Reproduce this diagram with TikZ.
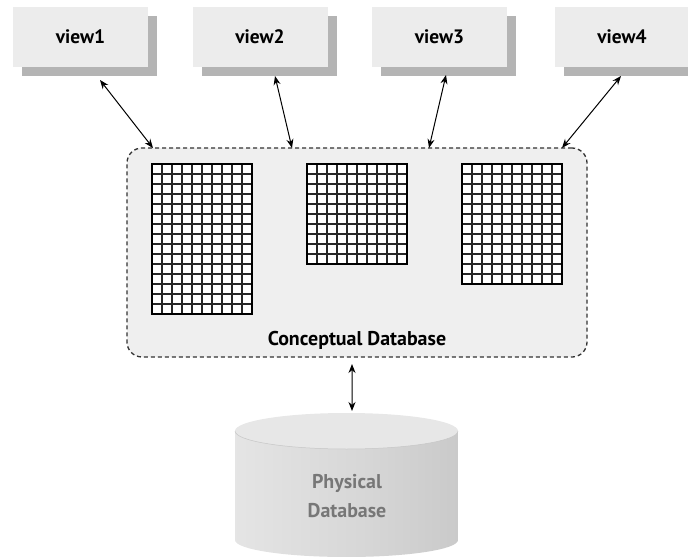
\documentclass[tikz,border=0pt]{standalone}
\usepackage{fontspec}
\setmainfont{PT Sans}
\newfontfamily\labfont{PT Sans}
\usetikzlibrary{shadows,calc,arrows.meta}
\definecolor{boxfill}{HTML}{ECECEC}
\definecolor{shadowgray}{HTML}{B4B4B4}
\definecolor{cfill}{HTML}{EFEFEF}
\definecolor{dashgray}{HTML}{333333}
\definecolor{cylA}{HTML}{C6C6C6}
\definecolor{cylB}{HTML}{E9E9E9}
\definecolor{cylC}{HTML}{D6D6D6}
\definecolor{cylD}{HTML}{BBBBBB}
\definecolor{cyltop}{HTML}{E7E7E7}
\definecolor{phystext}{HTML}{777777}
\pgfdeclarehorizontalshading{cylside}{100bp}{color(0bp)=(cylA); color(16bp)=(cylB); color(55bp)=(cylC); color(100bp)=(cylD)}
\begin{document}
\begin{tikzpicture}[x=1bp,y=-1bp,
  viewbox/.style={fill=boxfill, draw=none, minimum width=135bp, minimum height=60bp,
    inner sep=0bp, outer sep=0bp,
    drop shadow={shadow xshift=9bp, shadow yshift=-9bp, fill=shadowgray, opacity=1},
    font=\labfont\bfseries\fontsize{19.5}{22}\selectfont},
  cbox/.style={fill=cfill, draw=dashgray, dash pattern=on 4bp off 3bp, line width=1.3bp,
    rounded corners=15bp, inner sep=0bp, outer sep=0bp},
  gridbox/.style={fill=white, draw=none, inner sep=0bp, outer sep=0bp, anchor=north west},
  gline/.style={draw=black!85, line width=1.5bp},
  dbl/.style={{Stealth[length=9bp,width=7bp]}-{Stealth[length=9bp,width=7bp]}, line width=1bp},
  lbl/.style={font=\labfont\bfseries\fontsize{20}{22}\selectfont, inner sep=0bp},
  phys/.style={font=\labfont\bfseries\fontsize{20}{30}\selectfont, text=phystext, align=center, inner sep=0bp}
]
\useasboundingbox (0,0) rectangle (688,557);

% views
\node[viewbox] (v1) at (80.5,37) {view1};
\node[viewbox] (v2) at (260,37) {view2};
\node[viewbox] (v3) at (439.5,37) {view3};
\node[viewbox] (v4) at (622,37) {view4};

% conceptual database box
\node[cbox, anchor=north west, minimum width=460bp, minimum height=209bp] (cdb) at (127,148) {};
\node[lbl] (clab) at (357,340) {Conceptual Database};

% grids
\newcommand\gridtable[5]{%
  \node[gridbox, minimum width=#4*10bp, minimum height=#5*10bp] (#1) at (#2,#3) {};
  \pgfmathtruncatemacro\gc{#4-1}%
  \pgfmathtruncatemacro\gr{#5-1}%
  \foreach \i in {1,...,\gc} {\draw[gline] ($(#1.north west)+(\i*10,0)$) -- ($(#1.south west)+(\i*10,0)$);}
  \foreach \j in {1,...,\gr} {\draw[gline] ($(#1.north west)+(0,\j*10)$) -- ($(#1.north east)+(0,\j*10)$);}
  \draw[black, line width=2.2bp] (#1.north west) rectangle (#1.south east);
}
\gridtable{t1}{152}{164}{10}{15}
\gridtable{t2}{307}{164}{10}{10}
\gridtable{t3}{462}{164}{10}{12}

% arrows views <-> conceptual
\draw[dbl] ($(v1.south)+(19.5,13)$) -- ($(cdb.north west)+(26,0)$);
\draw[dbl] ($(v2.south)+(15,9)$) -- ($(cdb.north west)+(165,0)$);
\draw[dbl] ($(v3.south)+(6.5,8)$) -- ($(cdb.north west)+(302,0)$);
\draw[dbl] ($(v4.south)+(-1,9)$) -- ($(cdb.north west)+(435,0)$);

% physical database cylinder
\shade[shading=cylside] (235,431) -- (235,540) arc[start angle=180, end angle=360, x radius=111.5bp, y radius=17bp] -- (458,431) -- cycle;
\fill[cyltop] (346.5,431) ellipse[x radius=111.5bp, y radius=18bp];
\draw[cylA, line width=0.5bp] (235,431) arc[start angle=180, end angle=360, x radius=111.5bp, y radius=18bp];
\coordinate (dbtop) at (352,411);
\node[phys] (pdb) at (347,496) {Physical\\Database};

\draw[dbl] ($(cdb.south)+(-5,7)$) -- (dbtop);
\end{tikzpicture}
\end{document}
